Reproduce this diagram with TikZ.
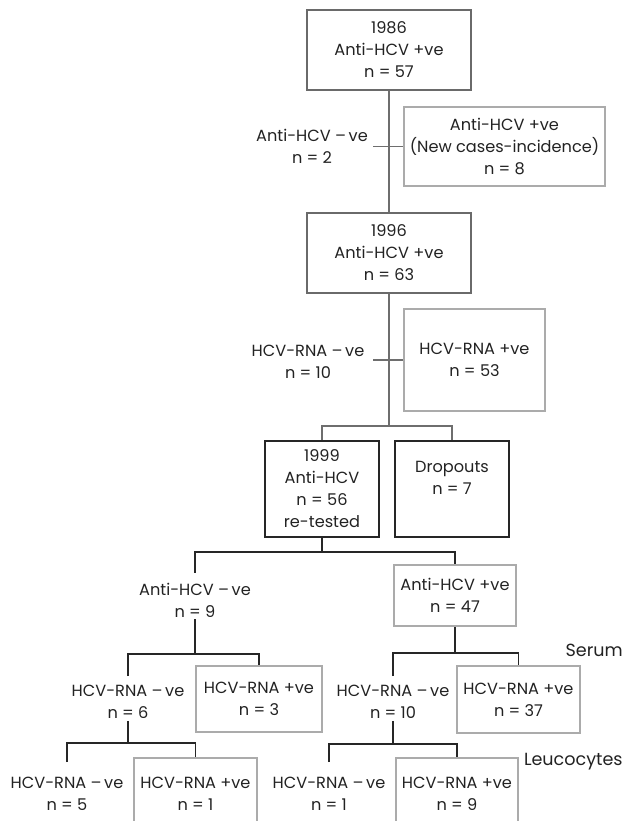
\documentclass[tikz,border=0pt]{standalone}
\usepackage{fontspec}
\setmainfont{Poppins}
\usetikzlibrary{positioning}
\usetikzlibrary{calc}
\definecolor{boxdark}{HTML}{6A6A6A}
\definecolor{boxlight}{HTML}{ABABAB}
\definecolor{linegray}{HTML}{6E6E6E}
\definecolor{txt}{HTML}{222222}

\begin{document}
\begin{tikzpicture}[x=0.02cm, y=-0.02cm,
    every node/.style={font=\fontsize{9.2}{12.5}\selectfont, text=txt, align=center},
    darkbox/.style={draw=boxdark, line width=1.2pt, inner sep=0pt},
    lightbox/.style={draw=boxlight, line width=1.2pt, inner sep=0pt},
    blackbox/.style={draw=black!85, line width=1.2pt, inner sep=0pt},
    neglabel/.style={inner sep=1pt},
    sidelabel/.style={anchor=east, inner sep=0pt, font=\fontsize{10}{12}\selectfont},
    conn/.style={line width=0.6pt, draw=black!85},
    conngray/.style={line width=0.6pt, draw=linegray}]
  \clip (0,0) rectangle (633,821);

  % 1986 -> 1996
  \node[darkbox, minimum width=3.28cm, minimum height=1.6cm] (y1986) at (389,50) {1986\\Anti-HCV +ve\\n = 57};
  \node[lightbox, minimum width=4.02cm, minimum height=1.58cm] (incid) at (504.5,146.5) {Anti-HCV +ve\\(New cases-incidence)\\n = 8};
  \node[neglabel] (neg2) at (312,146.5) {Anti-HCV –\,ve\\n = 2};
  \node[darkbox, minimum width=3.28cm, minimum height=1.6cm] (y1996) at (389,253) {1996\\Anti-HCV +ve\\n = 63};
  \node[lightbox, minimum width=2.82cm, minimum height=2.04cm] (rna53) at (474.5,360) {HCV-RNA +ve\\n = 53};
  \node[neglabel] (neg10a) at (308,362) {HCV-RNA –\,ve\\n = 10};

  % 1999
  \node[blackbox, minimum width=2.28cm, minimum height=1.92cm] (y1999) at (322,489) {1999\\Anti-HCV\\n = 56\\re-tested};
  \node[blackbox, minimum width=2.28cm, minimum height=1.92cm] (drop) at (452,489) {Dropouts\\n = 7\\\mbox{}};
  \node[neglabel] (neg9) at (195,600) {Anti-HCV –\,ve\\n = 9};
  \node[lightbox, minimum width=2.44cm, minimum height=1.22cm] (pos47) at (455,595.5) {Anti-HCV +ve\\n = 47};

  % serum
  \node[neglabel] (neg6) at (128,702) {HCV-RNA –\,ve\\n = 6};
  \node[lightbox, minimum width=2.52cm, minimum height=1.32cm] (rna3) at (259,699) {HCV-RNA +ve\\n = 3};
  \node[neglabel] (neg10b) at (393,702) {HCV-RNA –\,ve\\n = 10};
  \node[lightbox, minimum width=2.46cm, minimum height=1.34cm] (rna37) at (518.5,699.5) {HCV-RNA +ve\\n = 37};
  \node[sidelabel] (serum) at (623,650) {Serum};

  % leucocytes
  \node[neglabel] (neg5) at (67,794) {HCV-RNA –\,ve\\n = 5};
  \node[lightbox, minimum width=2.46cm, minimum height=1.44cm] (rna1) at (195.5,794) {HCV-RNA +ve\\n = 1};
  \node[neglabel] (neg1) at (329,794) {HCV-RNA –\,ve\\n = 1};
  \node[lightbox, minimum width=2.44cm, minimum height=1.44cm] (rna9) at (457,794) {HCV-RNA +ve\\n = 9};
  \node[sidelabel] (leuco) at (623,762) {Leucocytes};

  \coordinate (tick1) at (373,146.5);
  \coordinate (tick2) at (373,360);
  \coordinate (split1) at (389,426);
  \coordinate (split2) at (322,552);
  \coordinate (split3) at (195,654);
  \coordinate (split4) at (455,653);
  \coordinate (split5) at (128,743);
  \coordinate (split6) at (393,744);

  \draw[conngray] (y1986) -- (y1996);
  \draw[conngray] (tick1) -- (tick1 -| incid.west);
  \draw[conngray] (y1996) -- (split1);
  \draw[conngray] (tick2) -- (tick2 -| rna53.west);
  \draw[conngray] (y1999.north) |- (split1) -| (drop.north);

  \draw[conn] (y1999) -- (split2);
  \draw[conn] ([yshift=4.5pt]neg9.north) |- (split2) -| (pos47.north);
  \draw[conn] (neg9.south) -- (split3);
  \draw[conn] ([yshift=4pt]neg6.north) |- (split3) -| (rna3.north);
  \draw[conn] (pos47) -- (split4);
  \draw[conn] ([yshift=4pt]neg10b.north) |- (split4) -| (rna37.north);
  \draw[conn] (neg6.south) -- (split5);
  \draw[conn] ([yshift=7.5pt]neg5.north) |- (split5) -| (rna1.north);
  \draw[conn] (neg10b.south) -- (split6);
  \draw[conn] ([yshift=7.5pt]neg1.north) |- (split6) -| (rna9.north);
\end{tikzpicture}
\end{document}
